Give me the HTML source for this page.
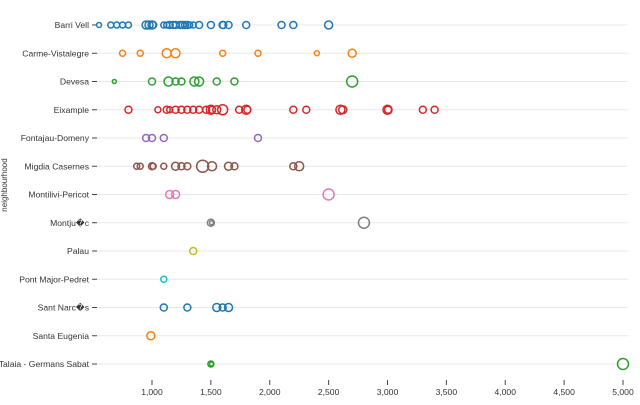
<!DOCTYPE html>
<html><head><meta charset="utf-8"><style>
body{margin:0;background:#fff;}
svg{font-family:"Liberation Sans",sans-serif;}
</style></head><body>
<svg id="chart" width="640" height="400"></svg>
<script>
const categories=["Barri Vell","Carme-Vistalegre","Devesa","Eixample","Fontajau-Domeny","Migdia Casernes","Montilivi-Pericot","Montju\uFFFDc","Palau","Pont Major-Pedret","Sant Narc\uFFFDs","Santa Eugenia","Talaia - Germans Sabat"];
const prices=[
[550,650,700,750,800,950,975,1000,1010,1100,1125,1150,1180,1200,1240,1260,1280,1300,1320,1350,1400,1500,1600,1605,1650,1800,2100,2200,2500],
[750,900,1125,1200,1600,1900,2400,2700],
[680,1000,1140,1200,1250,1360,1400,1550,1700,2700],
[800,1050,1125,1150,1200,1250,1300,1350,1400,1460,1500,1510,1550,1600,1740,1800,1810,2200,2310,2600,2620,3000,3005,3300,3400],
[950,1000,1100,1900],
[870,900,1000,1010,1100,1200,1250,1300,1430,1510,1650,1700,2200,2250],
[1150,1200,2500],
[1500,1505,2800],
[1350],
[1100],
[1100,1300,1550,1600,1650],
[990],
[1500,1505,5000]];
const sizes=[
[2.5,3,3,3,3,4,4,4,3.5,3,3,3.5,3.5,3.5,3.5,3.5,3.5,3.5,3,3,3.5,3.5,3.5,3.5,3.5,3.5,3.5,3.5,4],
[3,3,4.5,4.5,3,3,2.5,4],
[2,3.5,4.5,3.5,3.5,4.5,4.5,3.5,3.5,5.5],
[3.5,3,3.5,3,3.5,3.5,3.5,3.5,3.5,3.5,4.5,3.5,4,5,3.5,4.5,3.5,3.5,3.5,4.5,4,4.5,3.5,3.5,3.5],
[3.5,3.5,3.5,3.5],
[3,3,3.5,3,3,4,3.5,3.5,6,4.5,4,3.5,3.5,4.5],
[4,4,5.5],
[3.5,2,5.5],
[3.5],[3],
[3.5,3.5,4,3.5,4],
[4],
[3,2,5.5]];
const xTicks=[1000,1500,2000,2500,3000,3500,4000,4500,5000];
const colors=["#1f77b4","#ff7f0e","#2ca02c","#d62728","#9467bd","#8c564b","#e377c2","#7f7f7f","#bcbd22","#17becf","#1f77b4","#ff7f0e","#2ca02c"];
const NS="http://www.w3.org/2000/svg";
const svg=document.getElementById('chart');
const x=v=>34.25+v*0.11775;
const y=i=>25+i*28.25;
function mk(t,a){const e=document.createElementNS(NS,t);for(const k in a)e.setAttribute(k,a[k]);svg.appendChild(e);return e;}
categories.forEach((c,i)=>{
  const g=mk('line',{x1:97,x2:628,y1:y(i),y2:y(i),stroke:'#e8e8e8','stroke-width':1});
  
  
  const tk=mk('line',{x1:92,x2:97,y1:y(i),y2:y(i),stroke:'#444','stroke-width':1});
  
  
  const t=mk('text',{x:89,y:y(i)+3,'text-anchor':'end','font-size':8.6,fill:'#333'});
  t.textContent=c;
  
  
});
xTicks.forEach(v=>{
  const tk=mk('line',{x1:x(v),x2:x(v),y1:380,y2:385,stroke:'#444','stroke-width':1});
  
  
  const t=mk('text',{x:x(v),y:395,'text-anchor':'middle','font-size':8.6,fill:'#333'});
  t.textContent=v.toLocaleString('en-US');
  
  
});
prices.forEach((arr,i)=>{arr.forEach((v,j)=>{
  const c=mk('circle',{cx:x(v),cy:y(i),r:sizes[i][j],fill:'none',stroke:colors[i],'stroke-width':1.5});
  
  
});});
const yt=mk('text',{x:0,y:0,transform:'translate(7,185) rotate(-90)','text-anchor':'middle','font-size':8,fill:'#333'});
yt.textContent='neighbourhood';


</script>
</body></html>
